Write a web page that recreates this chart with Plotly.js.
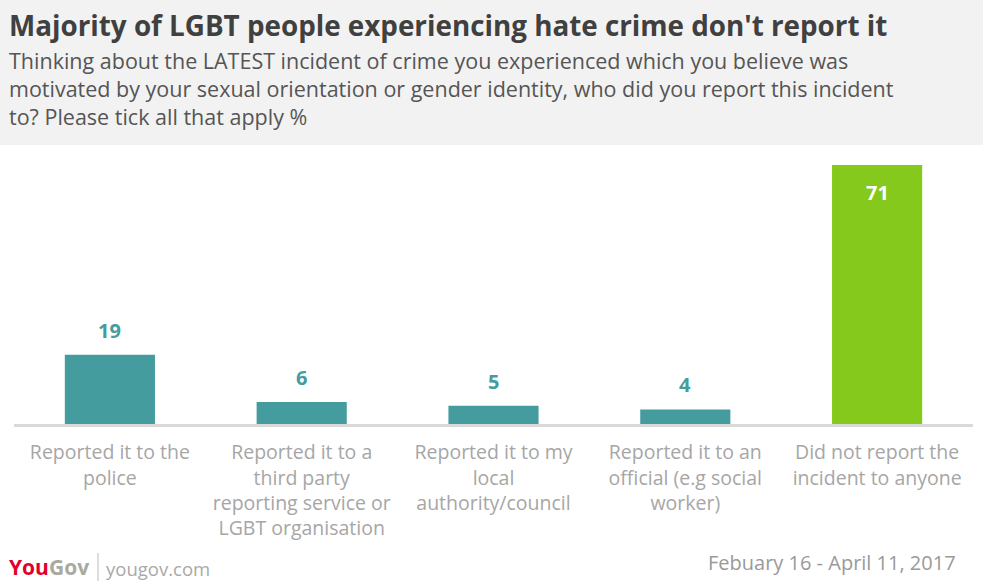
<!DOCTYPE html>
<html>
<head>
<meta charset="utf-8">
<script src="https://cdn.plot.ly/plotly-3.0.1.min.js"></script>
<style>
  html, body { margin: 0; padding: 0; background: #fff; }
  #graph { width: 983px; height: 588px; }
</style>
</head>
<body>
<div id="graph"></div>
<script>
const categories = [
    'Reported it to the<br>police',
    'Reported it to a<br>third party<br>reporting service or<br>LGBT organisation',
    'Reported it to my<br>local<br>authority/council',
    'Reported it to an<br>official (e.g social<br>worker)',
    'Did not report the<br>incident to anyone'
];
const shares = [19, 6, 5, 4, 71];
const barColors = ['#459c9e', '#459c9e', '#459c9e', '#459c9e', '#84c91b'];
const labelColors = ['#459c9e', '#459c9e', '#459c9e', '#459c9e', '#ffffff'];
const labelInside = [false, false, false, false, true];

const W = 983, H = 588;
const marginTop = 165, marginBottom = 164;
const marginLeft = 14, marginRight = 10;
const plotW = W - marginLeft - marginRight;
const plotH = H - marginTop - marginBottom;
const axisY = H - marginBottom;
const headerBottom = 145;

const font = '"Open Sans", Lato, sans-serif';

// pixel helpers for the furniture around the plot (header, footer)
const px = x => (x - marginLeft) / plotW;
const py = y => (axisY - y) / plotH;

const trace = {
    x: categories,
    y: shares,
    type: 'bar',
    marker: {color: barColors},
    hoverinfo: 'none'
};

// value labels: above teal bars, inside the top of the green one
const valueLabels = shares.map((v, i) => ({
    x: categories[i],
    y: v,
    xref: 'x',
    yref: 'y',
    text: '<b>' + v + '</b>',
    showarrow: false,
    yanchor: labelInside[i] ? 'top' : 'bottom',
    yshift: labelInside[i] ? -12 : 9,
    font: {family: font, size: 20, color: labelColors[i]}
}));

const layout = {
    width: W,
    height: H,
    margin: {l: marginLeft, r: marginRight, t: marginTop, b: marginBottom},
    paper_bgcolor: '#ffffff',
    plot_bgcolor: '#ffffff',
    showlegend: false,
    bargap: 0.53,
    xaxis: {
        showgrid: false,
        zeroline: false,
        showline: true,
        linecolor: '#d9d9d9',
        linewidth: 3,
        ticks: '',
        ticklabelstandoff: 9,
        tickfont: {family: font, size: 19.5, color: '#a6a6a6'},
        fixedrange: true
    },
    yaxis: {
        range: [0, 71],
        visible: false,
        fixedrange: true
    },
    shapes: [{
        type: 'rect',
        xref: 'paper', yref: 'paper',
        x0: -1, x1: 2,
        y0: py(headerBottom), y1: py(-20),
        fillcolor: '#f2f2f2',
        line: {width: 0},
        layer: 'below'
    }, {
        type: 'line',
        xref: 'paper', yref: 'paper',
        x0: px(98), x1: px(98),
        y0: py(581), y1: py(553),
        line: {color: '#bbbbbb', width: 1}
    }],
    annotations: valueLabels.concat([{
        xref: 'paper', yref: 'paper',
        x: px(7), y: py(25),
        xanchor: 'left', yanchor: 'middle',
        text: '<b>Majority of LGBT people experiencing hate crime don\'t report it</b>',
        showarrow: false,
        font: {family: font, size: 27.8, color: '#404040'}
    }, {
        xref: 'paper', yref: 'paper',
        x: px(7), y: py(89),
        xanchor: 'left', yanchor: 'middle', align: 'left',
        text: 'Thinking about the LATEST incident of crime you experienced which you believe was<br>motivated by your sexual orientation or gender identity, who did you report this incident<br>to? Please tick all that apply %',
        showarrow: false,
        font: {family: font, size: 21.5, color: '#555555'}
    }, {
        xref: 'paper', yref: 'paper',
        x: px(7), y: py(567),
        xanchor: 'left', yanchor: 'middle',
        text: '<b><span style="color:#e4002b">You</span><span style="color:#a9a9a0">Gov</span></b>',
        showarrow: false,
        font: {family: font, size: 21, color: '#a9a9a0'}
    }, {
        xref: 'paper', yref: 'paper',
        x: px(104), y: py(568),
        xanchor: 'left', yanchor: 'middle',
        text: 'yougov.com',
        showarrow: false,
        font: {family: font, size: 18.5, color: '#a9a9a9'}
    }, {
        xref: 'paper', yref: 'paper',
        x: px(958), y: py(562),
        xanchor: 'right', yanchor: 'middle',
        text: 'Febuary 16 - April 11, 2017',
        showarrow: false,
        font: {family: font, size: 20, color: '#9a9a9a'}
    }])
};

Plotly.newPlot('graph', [trace], layout, {displayModeBar: false, staticPlot: true});
</script>
</body>
</html>
